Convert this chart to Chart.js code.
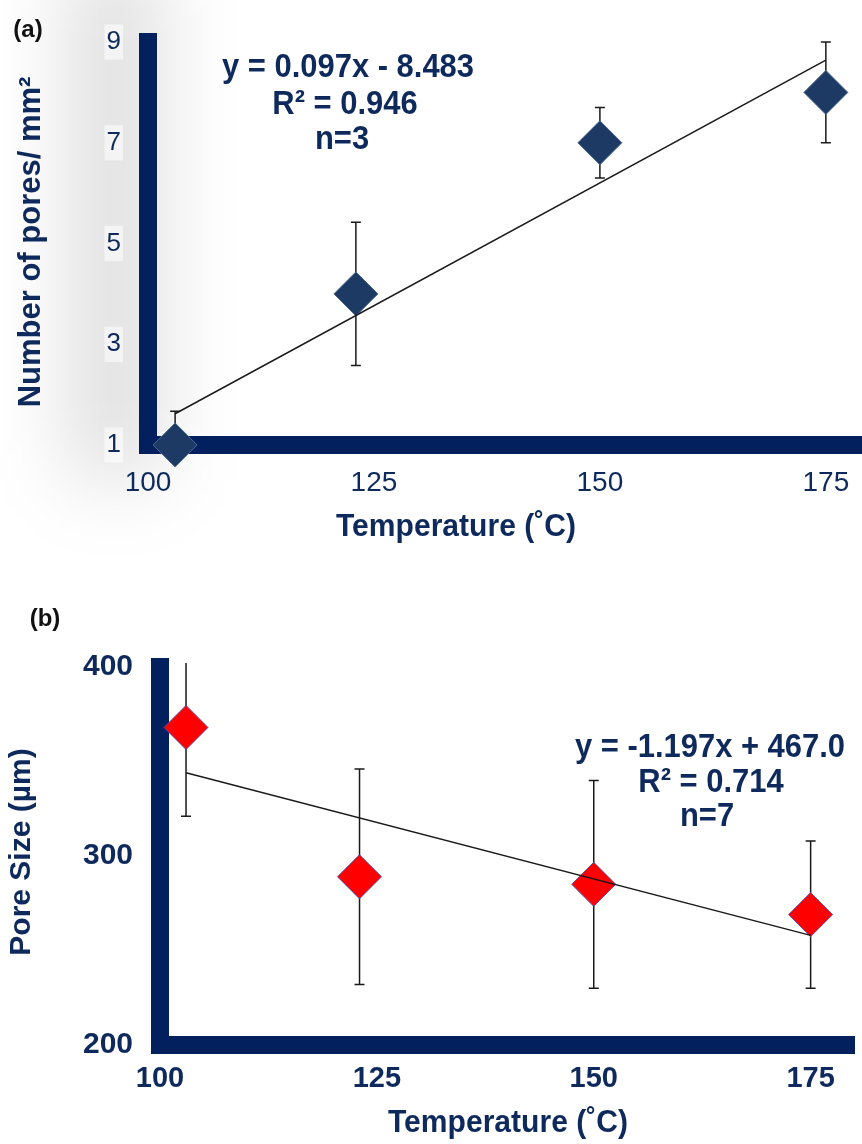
<!DOCTYPE html>
<html>
<head>
<meta charset="utf-8">
<script src="https://cdn.jsdelivr.net/npm/chart.js@4"></script>
<style>
  body { margin: 0; background: #fff; }
  canvas { display: block; }
</style>
</head>
<body>
<canvas id="chartA" width="862" height="560"></canvas>
<canvas id="chartB" width="862" height="584"></canvas>
<script>
// (a) number of pores vs temperature
const tempA = [103, 123, 150, 175];
const poresA = [1.0, 4.0, 7.0, 8.0];
const poresErr = [0.67, 1.42, 0.7, 1.0];
const trendAX = [103, 175];
const trendAY = [1.62, 8.64];
const yTicksA = [1, 3, 5, 7, 9];

// (b) pore size vs temperature
const tempB = [103, 123, 150, 175];
const sizeB = [368, 289, 285, 269];
const sizeErr = [47, 57, 55, 39];
const trendBX = [103, 175];
const trendBY = [344, 258];
const yTicksB = [200, 300, 400];

const xTicks = [100, 125, 150, 175];

const navy = "#0e2a5c";
const barColor = "#03205e";
const font = "'Liberation Sans', Arial, sans-serif";

Chart.defaults.font.family = font;

function errorBars(xs, ys, err) {
    return {
        id: "errorBars",
        beforeDatasetsDraw(chart) {
            const { ctx, chartArea, scales } = chart;
            ctx.save();
            ctx.beginPath();
            ctx.rect(chartArea.left, chartArea.top - 4, chartArea.width, chartArea.height + 4);
            ctx.clip();
            ctx.strokeStyle = "#1a1a1a";
            ctx.lineWidth = 1.5;
            xs.forEach((xv, i) => {
                const px = scales.x.getPixelForValue(xv);
                const top = scales.y.getPixelForValue(ys[i] + err[i]);
                const bot = scales.y.getPixelForValue(ys[i] - err[i]);
                ctx.beginPath();
                ctx.moveTo(px, top); ctx.lineTo(px, bot);
                ctx.moveTo(px - 5, top); ctx.lineTo(px + 5, top);
                ctx.moveTo(px - 5, bot); ctx.lineTo(px + 5, bot);
                ctx.stroke();
            });
            ctx.restore();
        }
    };
}

function textLayer(items, shade) {
    return {
        id: "textLayer",
        beforeDraw(chart) {
            if (!shade) return;
            const ctx = chart.ctx;
            ctx.save();
            ctx.filter = "blur(40px)";
            ctx.fillStyle = "rgba(0,0,0,0.13)";
            ctx.fillRect(70, -40, 90, 520);
            ctx.restore();
        },
        afterDraw(chart) {
            const ctx = chart.ctx;
            items.forEach(t => {
                ctx.save();
                ctx.translate(t.x, t.y);
                if (t.rot) ctx.rotate(t.rot);
                ctx.scale(t.sx || 1, 1);
                ctx.font = t.font;
                ctx.fillStyle = t.color || navy;
                ctx.textAlign = "center";
                ctx.textBaseline = "middle";
                ctx.fillText(t.text, 0, 0);
                ctx.restore();
            });
        }
    };
}

function axisOptions(cfg) {
    return {
        x: {
            type: "linear",
            min: 100,
            max: cfg.xMax,
            afterBuildTicks: s => { s.ticks = xTicks.map(v => ({ value: v })); },
            afterFit: s => {
                s.height = cfg.xHeight;
                s.paddingLeft = 0; s.paddingRight = 0;
            },
            grid: { display: false, drawTicks: false },
            border: { display: true, color: barColor, width: 18 },
            ticks: { color: navy, font: cfg.xFont, padding: cfg.xPad }
        },
        y: {
            type: "linear",
            min: cfg.yTicks[0],
            max: cfg.yTicks[cfg.yTicks.length - 1],
            afterBuildTicks: s => { s.ticks = cfg.yTicks.map(v => ({ value: v })); },
            afterFit: s => {
                s.width = cfg.yWidth;
                s.paddingTop = 0; s.paddingBottom = 0;
            },
            grid: { display: false, drawTicks: false },
            border: { display: true, color: barColor, width: 18 },
            ticks: {
                color: navy, font: cfg.yFont, padding: cfg.yPad,
                showLabelBackdrop: cfg.backdrop, backdropColor: "rgba(255,255,255,0.55)", backdropPadding: 2
            }
        }
    };
}

const common = {
    responsive: false,
    animation: false,
    plugins: { legend: { display: false }, tooltip: { enabled: false } }
};

new Chart(document.getElementById("chartA").getContext("2d"), {
    type: "scatter",
    data: {
        datasets: [{
            data: trendAX.map((x, i) => ({ x: x, y: trendAY[i] })),
            showLine: true,
            borderColor: "#1a1a1a",
            borderWidth: 1.5,
            pointRadius: 0,
            order: 1,
            clip: false
        }, {
            data: tempA.map((x, i) => ({ x: x, y: poresA[i] })),
            pointStyle: "rectRot",
            pointRadius: 22,
            backgroundColor: "#1c3a64",
            borderColor: "#4a6890",
            borderWidth: 1,
            order: 2,
            clip: false
        }]
    },
    options: {
        ...common,
        layout: { autoPadding: false, padding: { top: 42, left: 0, right: 0, bottom: 0 } },
        scales: axisOptions({
            xMax: 179, xHeight: 115, xPad: 21, xFont: { size: 28 },
            yTicks: yTicksA, yWidth: 148, yPad: 27, yFont: { size: 26 }, backdrop: true
        })
    },
    plugins: [
        errorBars(tempA, poresA, poresErr),
        textLayer([
            { text: "(a)", x: 28, y: 30, font: "bold 24px " + font, color: "#111" },
            { text: "y = 0.097x - 8.483", x: 348, y: 68, font: "bold 34px " + font, sx: 0.91 },
            { text: "R² = 0.946", x: 345, y: 105, font: "bold 34px " + font, sx: 0.91 },
            { text: "n=3", x: 342, y: 140, font: "bold 34px " + font, sx: 0.91 },
            { text: "Temperature (˚C)", x: 456, y: 527, font: "bold 31px " + font, sx: 0.97 },
            { text: "Number of pores/ mm²", x: 31, y: 242, font: "bold 31px " + font, rot: -Math.PI / 2 }
        ], true)
    ]
});

new Chart(document.getElementById("chartB").getContext("2d"), {
    type: "scatter",
    data: {
        datasets: [{
            data: trendBX.map((x, i) => ({ x: x, y: trendBY[i] })),
            showLine: true,
            borderColor: "#1a1a1a",
            borderWidth: 1.5,
            pointRadius: 0,
            order: 1,
            clip: false
        }, {
            data: tempB.map((x, i) => ({ x: x, y: sizeB[i] })),
            pointStyle: "rectRot",
            pointRadius: 22,
            backgroundColor: "#ff0000",
            borderColor: "#5b4aa0",
            borderWidth: 1,
            order: 2,
            clip: false
        }]
    },
    options: {
        ...common,
        layout: { autoPadding: false, padding: { top: 107, left: 0, right: 8, bottom: 0 } },
        scales: axisOptions({
            xMax: 180, xHeight: 99, xPad: 17, xFont: { size: 29, weight: "bold" },
            yTicks: yTicksB, yWidth: 160, yPad: 27, yFont: { size: 30, weight: "bold" }, backdrop: false
        })
    },
    plugins: [
        errorBars(tempB, sizeB, sizeErr),
        textLayer([
            { text: "(b)", x: 45, y: 59, font: "bold 24px " + font, color: "#111" },
            { text: "y = -1.197x + 467.0", x: 710, y: 188, font: "bold 34px " + font, sx: 0.91 },
            { text: "R² = 0.714", x: 711, y: 223, font: "bold 34px " + font, sx: 0.91 },
            { text: "n=7", x: 707, y: 257, font: "bold 34px " + font, sx: 0.91 },
            { text: "Temperature (˚C)", x: 508, y: 563, font: "bold 31px " + font, sx: 0.97 },
            { text: "Pore Size (µm)", x: 22, y: 292, font: "bold 30px " + font, rot: -Math.PI / 2 }
        ], false)
    ]
});
</script>
</body>
</html>
